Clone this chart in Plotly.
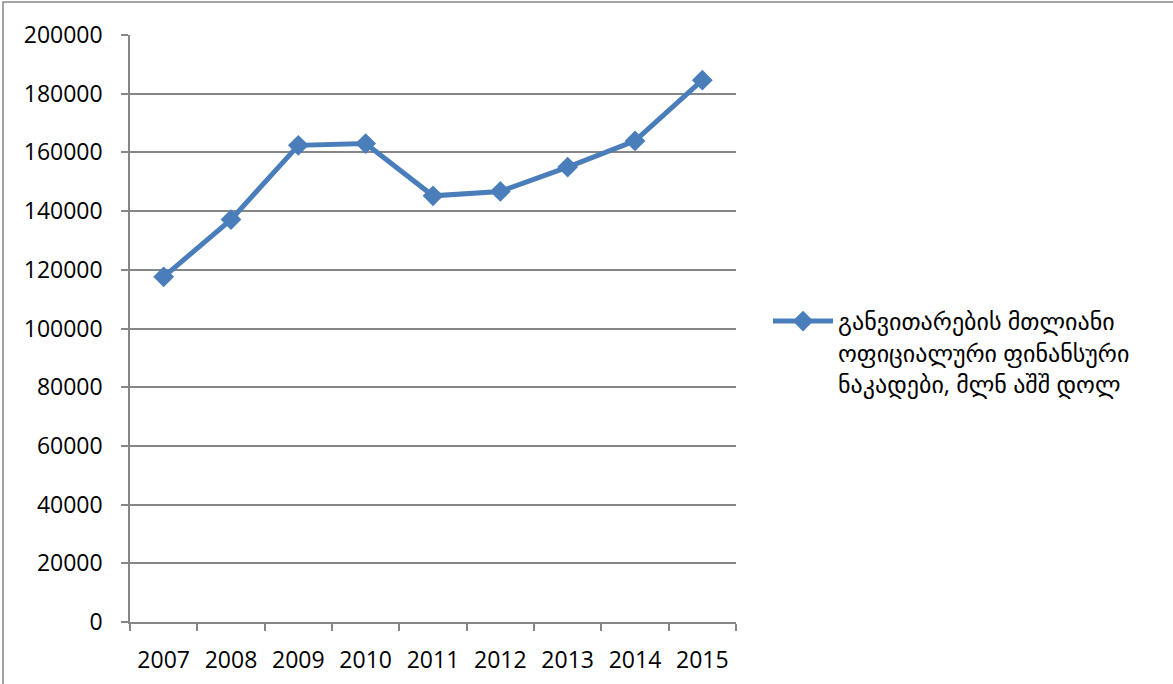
import plotly.graph_objects as go

years = ['2007', '2008', '2009', '2010', '2011', '2012', '2013', '2014', '2015']
flows = [117600, 137100, 162400, 163000, 145200, 146700, 155000, 163900, 184600]
series_name = 'განვითარების მთლიანი<br>ოფიციალური ფინანსური<br>ნაკადები, მლნ აშშ დოლ'
y_ticks = list(range(0, 200001, 20000))

W, H = 1173, 684
L, R, T, B = 130, 437, 35, 62
pw, ph = W - L - R, H - T - B

fig = go.Figure()
fig.add_trace(go.Scatter(x=years, y=flows,
                         mode='lines+markers',
                         name=series_name,
                         line={'color': '#4a7ebb', 'width': 5},
                         marker={'symbol': 'diamond', 'size': 16, 'color': '#4a7ebb'}))

fig.update_xaxes(type='category',
                 range=[-0.5, len(years) - 0.5],
                 tickson='boundaries',
                 ticks='outside', ticklen=7, tickcolor='#868686', tickwidth=1.5,
                 showline=True, linecolor='#868686', linewidth=1.5,
                 showgrid=False,
                 ticklabelstandoff=17,
                 tickfont={'size': 23, 'color': 'black'})
fig.update_yaxes(range=[0, 200000],
                 tickvals=y_ticks,
                 tickformat='d',
                 ticks='outside', ticklen=7, tickcolor='#868686', tickwidth=1.5,
                 showline=True, linecolor='#868686', linewidth=1.5,
                 showgrid=True, gridcolor='#868686', gridwidth=1.5,
                 zeroline=False,
                 ticklabelstandoff=14,
                 tickfont={'size': 23, 'color': 'black'})

# outer chart border
fig.add_shape(type='rect', xref='paper', yref='paper',
              x0=(3 - L) / pw, x1=(W + 5 - L) / pw,
              y0=-(B + 5) / ph, y1=(H - B - 2) / ph,
              line={'color': '#868686', 'width': 1.5})

fig.update_layout(
    width=W, height=H,
    margin={'l': L, 'r': R, 't': T, 'b': B, 'autoexpand': False},
    plot_bgcolor='white', paper_bgcolor='white',
    font={'family': 'Open Sans, DejaVu Sans', 'color': 'black'},
    showlegend=True,
    legend={'x': (768 - L) / pw, 'y': (H - B - 299) / ph,
            'xanchor': 'left', 'yanchor': 'top',
            'valign': 'top',
            'font': {'size': 24, 'color': 'black'},
            'itemwidth': 60,
            'bgcolor': 'rgba(0,0,0,0)'},
)

fig.write_html('out.html', config={'displayModeBar': False},
               post_script="document.body.style.margin='0';")
